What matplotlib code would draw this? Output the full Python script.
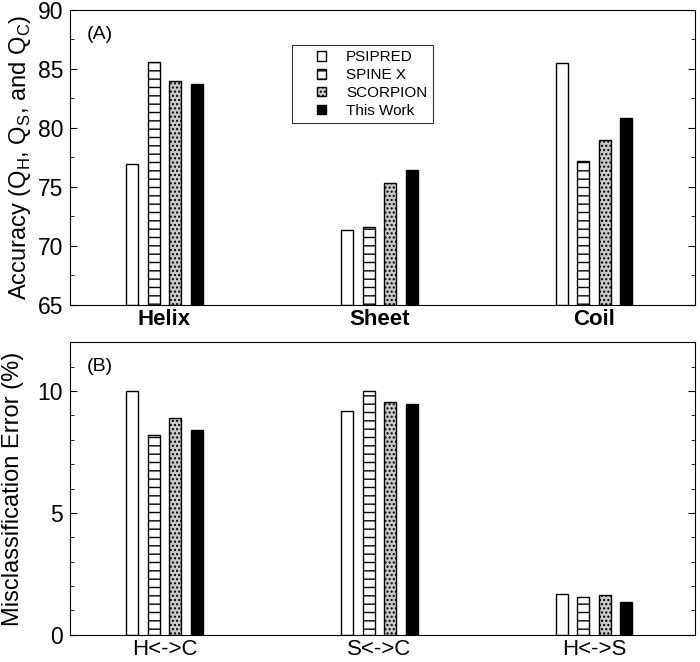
import numpy as np
import matplotlib.pyplot as plt
from matplotlib.container import BarContainer
from matplotlib.legend_handler import HandlerPatch, update_from_first_child

plt.rcParams['font.family'] = ['Liberation Sans', 'DejaVu Sans']
plt.rcParams['hatch.linewidth'] = 1.0

methods = ['PSIPRED', 'SPINE X', 'SCORPION', 'This Work']
acc_groups = ['Helix', 'Sheet', 'Coil']
acc_vals = [[76.9, 71.3, 85.5],
            [85.6, 71.6, 77.2],
            [84.0, 75.3, 79.0],
            [83.7, 76.4, 80.8]]
err_groups = ['H<->C', 'S<->C', 'H<->S']
err_vals = [[10.0, 9.2, 1.67],
            [8.2, 10.0, 1.54],
            [8.9, 9.55, 1.65],
            [8.4, 9.45, 1.35]]

faces = ['white', 'white', '#c8c8c8', 'black']
hatches = [None, '--', '....', None]
offsets = [-0.15, -0.05, 0.05, 0.15]
width = 0.056

fig = plt.figure(figsize=(7, 6.62), dpi=100)
ax1 = fig.add_axes([0.1, 0.54, 0.893, 0.445])
ax2 = fig.add_axes([0.1, 0.041, 0.893, 0.442])

x = np.arange(1, 4)
for ax, vals, base in [(ax1, acc_vals, 65), (ax2, err_vals, 0)]:
    for i in range(4):
        v = np.array(vals[i])
        ax.bar(x + offsets[i], v - base, width, bottom=base, color=faces[i],
               edgecolor='black', linewidth=1.0, hatch=hatches[i],
               label=methods[i])
    ax.set_xlim(0.56, 3.47)
    ax.tick_params(axis='y', which='both', direction='in', right=True,
                   labelsize=16.5, pad=5)
    ax.tick_params(axis='y', which='major', length=5)
    ax.tick_params(axis='y', which='minor', length=3)
    ax.tick_params(axis='x', length=0, labelsize=16, pad=3)
    for s in ax.spines.values():
        s.set_linewidth(0.8)

ax1.set_ylim(65, 90)
ax1.set_yticks([65, 70, 75, 80, 85, 90])
ax1.set_yticks(np.arange(65, 90, 2.5), minor=True)
ax1.set_xticks(x)
ax1.set_xticklabels(acc_groups, fontweight='bold')
ax1.set_ylabel(r'Accuracy (Q$_\mathregular{H}$, Q$_\mathregular{S}$, and Q$_\mathregular{C}$)',
               fontsize=17, labelpad=3)
ax1.text(0.027, 0.945, '(A)', transform=ax1.transAxes, fontsize=14, va='top')
leg = ax1.legend(loc='upper left', bbox_to_anchor=(0.355, 0.881), fontsize=11,
                 frameon=True, fancybox=False, edgecolor='black',
                 borderaxespad=0, handlelength=1.9, handleheight=0.6,
                 borderpad=0.35, labelspacing=0.25, handletextpad=1.3,
                 handler_map={BarContainer: HandlerPatch(
                     xpad=1.3, update_func=update_from_first_child)})
leg.get_frame().set_linewidth(0.8)

ax2.set_ylim(0, 12)
ax2.set_yticks([0, 5, 10])
ax2.set_yticks(np.arange(0, 12, 1), minor=True)
ax2.set_xticks(x)
ax2.set_xticklabels(err_groups)
ax2.set_ylabel('Misclassification Error (%)', fontsize=17, labelpad=10)
ax2.text(0.027, 0.945, '(B)', transform=ax2.transAxes, fontsize=14, va='top')

fig.savefig('out.png', dpi=100)
